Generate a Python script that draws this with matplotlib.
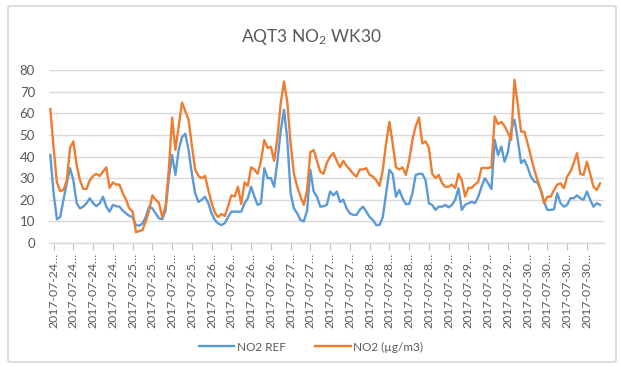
import matplotlib
matplotlib.use("Agg")
import matplotlib.pyplot as plt
from matplotlib.patches import FancyBboxPatch
import numpy as np

# Hourly NO2 readings, 24-30 July 2017 (168 hours)
no2_ref = [
    40.7, 23, 11, 12, 20, 27.6, 34.6, 29, 18.4, 16, 16.8, 18.4,
    20.7, 18.4, 17, 18.4, 21.4, 16.8, 14.5, 17.6, 17, 16.8, 15, 13.7,
    12.5, 12, 8.3, 8, 9, 12, 16.8, 16, 13.7, 11.4, 11, 15,
    30, 40.7, 31.5, 43, 49, 50.5, 43, 32, 23, 19, 20, 21.4,
    18.4, 13.7, 10.6, 9, 8.3, 9.2, 12, 14.5, 14.5, 14.5, 14.5, 18.4,
    20.7, 26, 21.4, 17.6, 18.4, 34.6, 30, 30, 26, 38, 52, 61.6,
    47.7, 23, 16, 13.7, 10.6, 10, 15, 33.8, 23.8, 21.4, 16.8, 17,
    17.6, 23.8, 22, 23.8, 19, 20, 16, 13.7, 13, 13, 15.3, 16.8,
    14.5, 12, 10.6, 8.3, 8.3, 12, 23, 33.8, 32, 21.4, 24.5, 20.7,
    18, 18, 23, 31.5, 32, 32, 29, 18.4, 17.6, 15.3, 16.8, 16.8,
    17.6, 16.5, 17.6, 20, 25.3, 15.3, 17.6, 18.4, 19, 18.4, 21.4, 26,
    30, 27.6, 25, 47.7, 40.7, 44.6, 37.6, 42, 52, 57, 47.7, 37,
    38.4, 35, 30.7, 28.4, 28, 24.5, 19, 15.3, 15.3, 15.6, 23, 18.4,
    16.8, 17.6, 20.7, 20.7, 22, 20.7, 20, 23.8, 20, 16.8, 18.4, 17.6,
]

no2_sensor = [
    62, 44, 28, 24, 24.5, 29, 44, 47, 36, 29, 25, 25,
    29, 31, 32, 31, 33, 35, 25.5, 28, 27, 27, 23, 20,
    16, 14.5, 5, 5.5, 6, 10, 15, 22, 20, 18.5, 12, 17,
    34, 58, 43, 54, 65, 61, 57, 45, 34, 31, 30, 31,
    24.5, 18.5, 14, 12, 13.4, 12.5, 17, 22, 21.5, 26, 18, 28,
    26.4, 35, 34, 32, 38, 47.6, 44, 44.5, 38, 49, 64.7, 74.7,
    65, 46, 32, 26, 21.5, 17.6, 24.5, 42, 43, 38, 33, 32,
    37, 40, 41.6, 38, 35, 38, 35.6, 34, 32, 30.7, 34, 34,
    34.6, 31.5, 30.7, 29, 26.4, 33.8, 46, 56, 46, 35, 34, 35,
    31.5, 38, 47.7, 54, 58, 46, 47, 44, 32, 30, 31.5, 27.7,
    26, 26, 27, 25.4, 32, 29, 21.5, 25.5, 25.5, 27, 28.4, 34.7,
    34.7, 34.7, 35, 58.5, 55, 56, 54, 51, 47.7, 75.5, 64, 51.5,
    51.5, 46, 40, 34, 29, 24.5, 18.4, 21.4, 21.4, 24.5, 27, 27.6,
    25.3, 30.7, 33, 37, 41.5, 32, 31.5, 37.6, 32, 26, 24.5, 27.6,
]

days = ["24", "25", "26", "27", "28", "29", "30"]
tick_labels = [f"2017-07-{d}…" for d in days for _ in range(4)]
y_ticks = [0, 10, 20, 30, 40, 50, 60, 70, 80]

series_names = ["NO2 REF", "NO2 (µg/m3)"]
colors = ["#5B9BD5", "#ED7D31"]
text_gray = "#595959"
grid_gray = "#D9D9D9"

plt.rcParams["font.family"] = ["Lato", "DejaVu Sans"]
plt.rcParams["mathtext.fontset"] = "custom"
plt.rcParams["mathtext.rm"] = "Lato"
plt.rcParams["mathtext.it"] = "Lato"

W, H = 621, 367
fig = plt.figure(figsize=(W / 100, H / 100), dpi=100)

# chart-area frame
frame = FancyBboxPatch((8 / W, 5 / H), 608 / W, 356 / H,
                       boxstyle="round,pad=0,rounding_size=0.004",
                       transform=fig.transFigure, facecolor="white",
                       edgecolor="#D0D0D0", linewidth=1.0, zorder=-1)
fig.patches.append(frame)

ax = fig.add_axes([49 / W, (H - 243) / H, 555 / W, 173 / H])
ax.set_facecolor("none")

x = np.arange(len(no2_ref))
ax.plot(x, no2_ref, color=colors[0], lw=1.7, label=series_names[0],
        solid_joinstyle="round", zorder=3)
ax.plot(x, no2_sensor, color=colors[1], lw=1.7, label=series_names[1],
        solid_joinstyle="round", zorder=4)

ax.set_xlim(-0.4, 168.2)
ax.set_ylim(0, 80)
ax.set_yticks(y_ticks)
ax.set_yticklabels([str(v) for v in y_ticks], color=text_gray, fontsize=9.5)
ax.tick_params(axis="y", length=0, pad=10)
ax.yaxis.grid(True, color=grid_gray, lw=1.0)
ax.set_axisbelow(True)

tick_pos = np.arange(len(tick_labels)) * 6 + 1
ax.set_xticks(tick_pos)
ax.set_xticklabels(tick_labels, rotation=90, color=text_gray, fontsize=8.8)
ax.tick_params(axis="x", length=5, width=0.8, color="#BFBFBF", pad=2)

for s in ["top", "right", "left"]:
    ax.spines[s].set_visible(False)
ax.spines["bottom"].set_color(grid_gray)
ax.spines["bottom"].set_linewidth(1.0)

fig.text(311 / W, 1 - 37 / H, "AQT3 NO$_2$ WK30", ha="center", va="center",
         fontsize=12.5, color=text_gray)

handles, labels = ax.get_legend_handles_labels()
fig.legend(handles, labels, loc="center", bbox_to_anchor=(311 / W, 1 - 347 / H),
           ncol=2, frameon=False, fontsize=8.5, handlelength=3,
           columnspacing=2.5, handletextpad=0.2, labelcolor=text_gray)

fig.savefig("out.png", dpi=100)
